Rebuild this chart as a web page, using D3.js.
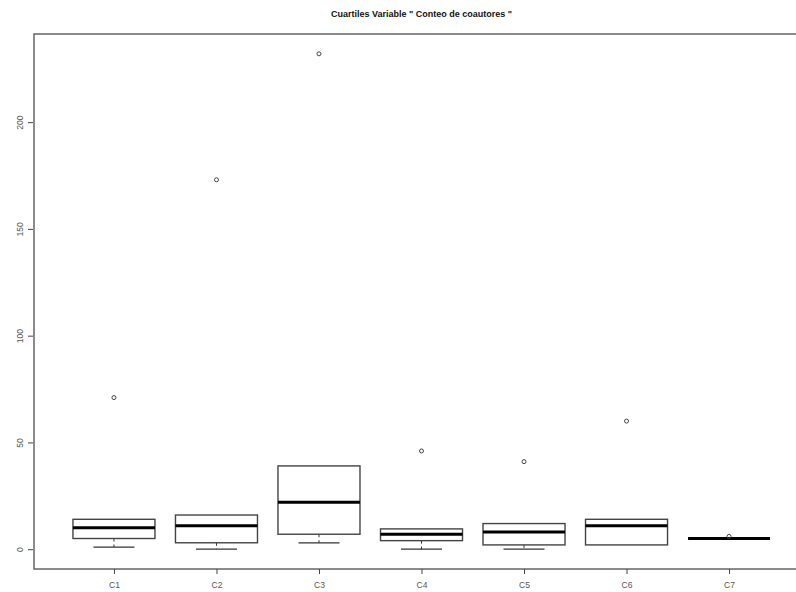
<!DOCTYPE html>
<html>
<head>
<meta charset="utf-8">
<script src="https://cdn.jsdelivr.net/npm/d3@7"></script>
<style>
  html, body { margin: 0; padding: 0; background: #fff; }
  svg { display: block; font-family: "Liberation Sans", Arial, sans-serif; }
</style>
</head>
<body>
<svg id="chart" width="796" height="592"></svg>
<script>
// Coauthor counts per cluster: quartiles, whisker ends and outliers
const categories   = ["C1", "C2", "C3", "C4", "C5", "C6", "C7"];
const whiskerLow   = [1, 0, 3, 0, 0, 2, 5];
const q1           = [5, 3, 7, 4, 2, 2, 5];
const medians      = [10, 11, 22, 7, 8, 11, 5];
const q3           = [14, 16, 39, 9.5, 12, 14, 5];
const whiskerHigh  = [14, 16, 39, 9.5, 12, 14, 5];
const outliers     = [[71], [173], [232], [46], [41], [60], [6]];
const yTicks       = [0, 50, 100, 150, 200];
const title        = "Cuartiles Variable \" Conteo de coautores \"";

const svg = d3.select("#chart");

const plot = { left: 34, right: 809, top: 34, bottom: 569 };

// Data range padded by 4% on each side
const allVals = whiskerLow.concat(whiskerHigh, outliers.flat());
const lo = d3.min(allVals), hi = d3.max(allVals);
const pad = (hi - lo) * 0.04;
const y = d3.scaleLinear().domain([lo - pad, hi + pad]).range([plot.bottom, plot.top]);

const n = categories.length;
const xPad = n * 0.04;
const x = d3.scaleLinear().domain([0.5 - xPad, n + 0.5 + xPad]).range([plot.left, plot.right]);
const boxW = (x(2) - x(1)) * 0.8;

const boxes = categories.map((c, i) => ({
  name: c, pos: i + 1,
  lo: whiskerLow[i], q1: q1[i], med: medians[i], q3: q3[i], hi: whiskerHigh[i],
  out: outliers[i]
}));

const g = svg.append("g");

boxes.forEach(b => {
  const cx = x(b.pos);
  // Dashed whiskers with solid caps
  if (b.lo < b.q1) {
    g.append("line").attr("x1", cx).attr("x2", cx)
      .attr("y1", y(b.q1)).attr("y2", y(b.lo))
      .attr("stroke", "#333").attr("stroke-width", 1).attr("stroke-dasharray", "3,3");
    g.append("line").attr("x1", cx - boxW / 4).attr("x2", cx + boxW / 4)
      .attr("y1", y(b.lo)).attr("y2", y(b.lo))
      .attr("stroke", "#333").attr("stroke-width", 1.2);
  }
  if (b.hi > b.q3) {
    g.append("line").attr("x1", cx).attr("x2", cx)
      .attr("y1", y(b.q3)).attr("y2", y(b.hi))
      .attr("stroke", "#333").attr("stroke-width", 1).attr("stroke-dasharray", "3,3");
    g.append("line").attr("x1", cx - boxW / 4).attr("x2", cx + boxW / 4)
      .attr("y1", y(b.hi)).attr("y2", y(b.hi))
      .attr("stroke", "#333").attr("stroke-width", 1.2);
  }
  // Box
  g.append("rect")
    .attr("x", cx - boxW / 2).attr("width", boxW)
    .attr("y", y(b.q3)).attr("height", Math.max(0, y(b.q1) - y(b.q3)))
    .attr("fill", "none").attr("stroke", "#444").attr("stroke-width", 1.4);
  // Median
  g.append("line").attr("x1", cx - boxW / 2).attr("x2", cx + boxW / 2)
    .attr("y1", y(b.med)).attr("y2", y(b.med))
    .attr("stroke", "#000").attr("stroke-width", 3);
  // Outliers
  b.out.forEach(v => {
    g.append("circle").attr("cx", cx).attr("cy", y(v)).attr("r", 2)
      .attr("fill", "none").attr("stroke", "#444").attr("stroke-width", 1);
  });
});

// Frame
svg.append("rect")
  .attr("x", plot.left).attr("y", plot.top)
  .attr("width", plot.right - plot.left).attr("height", plot.bottom - plot.top)
  .attr("fill", "none").attr("stroke", "#666").attr("stroke-width", 1.5);

// Y axis with vertical labels
const yAxis = svg.append("g")
  .attr("transform", `translate(${plot.left - 1},0)`)
  .call(d3.axisLeft(y).tickValues(yTicks).tickSize(5).tickFormat(d3.format("d")));
yAxis.select(".domain").remove();
yAxis.selectAll(".tick line").attr("stroke", "#444");
yAxis.selectAll(".tick text")
  .attr("fill", "#555").attr("font-size", 8.5)
  .attr("text-anchor", "middle")
  .attr("x", 0).attr("y", 0).attr("dy", "0.35em")
  .attr("transform", "translate(-13,0) rotate(-90)");

// X axis
const xAxis = svg.append("g")
  .attr("transform", `translate(0,${plot.bottom})`)
  .call(d3.axisBottom(x).tickValues(d3.range(1, n + 1)).tickSize(5).tickPadding(8)
    .tickFormat(d => categories[d - 1]));
xAxis.select(".domain").remove();
xAxis.selectAll(".tick line").attr("stroke", "#444");
xAxis.selectAll(".tick text").attr("fill", "#555").attr("font-size", 8.5);

// Title
svg.append("text")
  .attr("x", (plot.left + plot.right) / 2).attr("y", 17)
  .attr("text-anchor", "middle")
  .attr("font-size", 9).attr("font-weight", "bold").attr("fill", "#111")
  .text(title);
</script>
</body>
</html>
